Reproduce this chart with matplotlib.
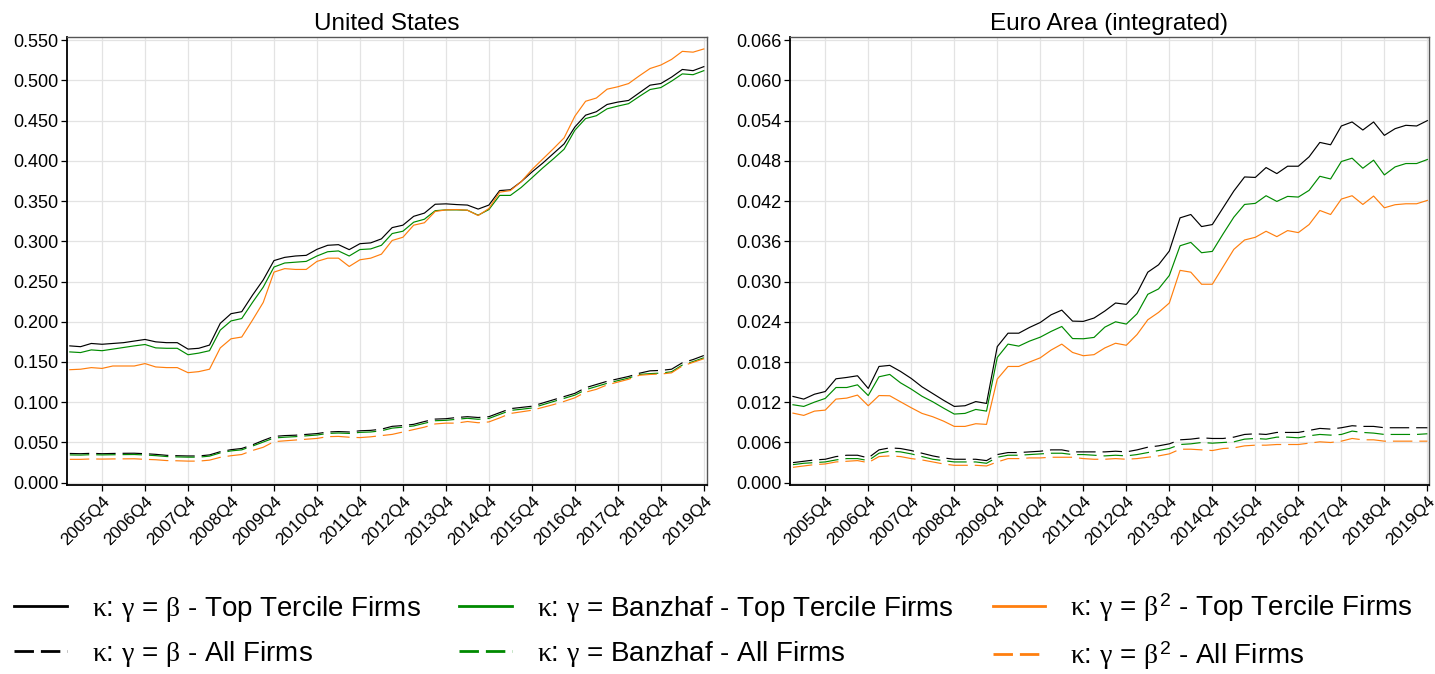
import numpy as np
import matplotlib
matplotlib.use("Agg")
import matplotlib.pyplot as plt

plt.rcParams['font.family'] = ['Liberation Sans', 'DejaVu Sans']
plt.rcParams['mathtext.fontset'] = 'custom'
plt.rcParams['mathtext.rm'] = 'Liberation Sans'
plt.rcParams['mathtext.it'] = 'Liberation Serif'
plt.rcParams['lines.scale_dashes'] = False

# quarters 2005Q1 .. 2019Q4
quarters = [f"{y}Q{q}" for y in range(2005, 2020) for q in range(1, 5)]

# ---- United States ----
us_beta_top = [0.170, 0.169, 0.173, 0.172, 0.173, 0.174, 0.176, 0.178, 0.175, 0.174,
               0.174, 0.166, 0.167, 0.171, 0.198, 0.210, 0.2125, 0.233, 0.252, 0.276,
               0.280, 0.2817, 0.2825, 0.290, 0.295, 0.2958, 0.2896, 0.297, 0.298, 0.303,
               0.317, 0.320, 0.331, 0.335, 0.346, 0.3465, 0.3456, 0.345, 0.340, 0.345,
               0.363, 0.364, 0.374, 0.386, 0.397, 0.409, 0.421, 0.442, 0.4567, 0.461,
               0.470, 0.473, 0.475, 0.4845, 0.494, 0.496, 0.504, 0.5135, 0.512, 0.517]
us_banz_top = [0.1625, 0.1617, 0.165, 0.164, 0.166, 0.168, 0.170, 0.1717, 0.1675, 0.167,
               0.167, 0.159, 0.161, 0.164, 0.1896, 0.201, 0.204, 0.224, 0.243, 0.268,
               0.273, 0.274, 0.275, 0.2817, 0.287, 0.288, 0.2817, 0.2897, 0.2905, 0.295,
               0.3096, 0.3125, 0.3237, 0.3274, 0.338, 0.339, 0.339, 0.3386, 0.3324, 0.3394,
               0.357, 0.357, 0.3668, 0.3788, 0.391, 0.4024, 0.4144, 0.438, 0.4525, 0.456,
               0.4646, 0.468, 0.471, 0.480, 0.4886, 0.491, 0.499, 0.508, 0.507, 0.512]
us_beta2_top = [0.1404, 0.141, 0.143, 0.142, 0.145, 0.145, 0.145, 0.148, 0.1438, 0.143,
                0.143, 0.1367, 0.138, 0.141, 0.1675, 0.1788, 0.181, 0.202, 0.224, 0.2617,
                0.266, 0.265, 0.265, 0.275, 0.279, 0.279, 0.2687, 0.277, 0.279, 0.284,
                0.301, 0.305, 0.320, 0.323, 0.337, 0.339, 0.3394, 0.3386, 0.332, 0.3407,
                0.361, 0.363, 0.374, 0.389, 0.402, 0.415, 0.4285, 0.4554, 0.474, 0.478,
                0.489, 0.492, 0.496, 0.5056, 0.5147, 0.519, 0.526, 0.536, 0.535, 0.539]
us_beta_all = [0.0363, 0.0360, 0.0365, 0.0360, 0.0363, 0.0365, 0.0366, 0.0360, 0.0352, 0.0340,
               0.0335, 0.0332, 0.0332, 0.0345, 0.0385, 0.0410, 0.0425, 0.0470, 0.0525, 0.0575,
               0.0585, 0.0590, 0.0600, 0.0610, 0.0630, 0.0635, 0.0630, 0.0645, 0.0650, 0.0665,
               0.0700, 0.0710, 0.0725, 0.0760, 0.0790, 0.0795, 0.0810, 0.0820, 0.0810, 0.0820,
               0.0870, 0.0920, 0.0935, 0.0950, 0.0990, 0.1030, 0.1070, 0.1110, 0.1180, 0.1220,
               0.1260, 0.1290, 0.1320, 0.1360, 0.1390, 0.1395, 0.1410, 0.1490, 0.1530, 0.1580]
us_banz_all = [0.0345, 0.0343, 0.0348, 0.0345, 0.0347, 0.0349, 0.0350, 0.0344, 0.0336, 0.0325,
               0.0320, 0.0317, 0.0317, 0.0330, 0.0370, 0.0395, 0.0408, 0.0455, 0.0505, 0.0555,
               0.0565, 0.0572, 0.0582, 0.0592, 0.0612, 0.0617, 0.0612, 0.0625, 0.0630, 0.0645,
               0.0678, 0.0690, 0.0705, 0.0738, 0.0770, 0.0775, 0.0788, 0.0800, 0.0788, 0.0798,
               0.0848, 0.0898, 0.0912, 0.0928, 0.0968, 0.1008, 0.1048, 0.1088, 0.1155, 0.1195,
               0.1235, 0.1268, 0.1300, 0.1345, 0.1355, 0.1362, 0.1378, 0.1462, 0.1505, 0.1552]
us_beta2_all = [0.0290, 0.0290, 0.0295, 0.0293, 0.0295, 0.0296, 0.0297, 0.0290, 0.0285, 0.0275,
                0.0272, 0.0268, 0.0268, 0.0280, 0.0315, 0.0335, 0.0350, 0.0400, 0.0440, 0.0510,
                0.0520, 0.0530, 0.0540, 0.0550, 0.0572, 0.0575, 0.0565, 0.0560, 0.0570, 0.0585,
                0.0600, 0.0630, 0.0660, 0.0690, 0.0730, 0.0740, 0.0740, 0.0760, 0.0745, 0.0755,
                0.0805, 0.0860, 0.0880, 0.0900, 0.0935, 0.0970, 0.1010, 0.1055, 0.1125, 0.1160,
                0.1215, 0.1250, 0.1285, 0.1335, 0.1345, 0.1350, 0.1365, 0.1450, 0.1495, 0.1540]

# ---- Euro Area (integrated) ----
ea_beta_top = [0.01287, 0.01247, 0.0132, 0.0136, 0.0155, 0.0157, 0.01595, 0.01406, 0.01734, 0.0175,
               0.0166, 0.01555, 0.0143, 0.0133, 0.0123, 0.01138, 0.01148, 0.0121, 0.01183, 0.0203,
               0.0223, 0.0223, 0.02316, 0.0239, 0.02504, 0.02574, 0.0241, 0.02406, 0.02456, 0.0256,
               0.0268, 0.0266, 0.0283, 0.0314, 0.0325, 0.03455, 0.0395, 0.0400, 0.0382, 0.0385,
               0.0410, 0.0435, 0.0456, 0.04553, 0.0470, 0.0461, 0.0472, 0.0472, 0.0486, 0.05075,
               0.0504, 0.0532, 0.0538, 0.0526, 0.0538, 0.0518, 0.0528, 0.0533, 0.0532, 0.0540]
ea_banz_top = [0.01163, 0.01138, 0.01202, 0.01257, 0.0142, 0.0142, 0.0146, 0.0130, 0.0158, 0.01615,
               0.0149, 0.01396, 0.0129, 0.01207, 0.01113, 0.01024, 0.01034, 0.01093, 0.01068, 0.01868,
               0.02067, 0.02037, 0.02112, 0.02171, 0.02256, 0.0233, 0.0215, 0.02147, 0.02167, 0.0232,
               0.0240, 0.02366, 0.0252, 0.0281, 0.0289, 0.0309, 0.03534, 0.03584, 0.0343, 0.0345,
               0.0371, 0.0396, 0.0415, 0.04166, 0.0428, 0.04195, 0.0427, 0.0426, 0.0436, 0.0457,
               0.0453, 0.0479, 0.0484, 0.0469, 0.0481, 0.0459, 0.0471, 0.0476, 0.0476, 0.0482]
ea_beta2_top = [0.01038, 0.01004, 0.01068, 0.01083, 0.01247, 0.01262, 0.01307, 0.01148, 0.0130, 0.01297,
                0.01207, 0.01118, 0.01034, 0.00984, 0.00919, 0.0084, 0.0084, 0.0088, 0.0087, 0.01545,
                0.01734, 0.01734, 0.0180, 0.01863, 0.01978, 0.02067, 0.01943, 0.01894, 0.0191, 0.0201,
                0.0208, 0.0205, 0.0221, 0.0243, 0.0254, 0.0268, 0.03167, 0.0314, 0.0296, 0.0296,
                0.0322, 0.0348, 0.0362, 0.0366, 0.0375, 0.0367, 0.0376, 0.0373, 0.0385, 0.0406,
                0.0400, 0.0423, 0.0428, 0.0415, 0.04275, 0.0410, 0.04146, 0.0416, 0.0416, 0.0421]
ea_beta_all = [0.0030, 0.0032, 0.0034, 0.0035, 0.0039, 0.0041, 0.0041, 0.0037, 0.0049, 0.0052,
               0.0051, 0.0048, 0.0044, 0.0040, 0.0037, 0.0035, 0.0035, 0.0035, 0.0033, 0.0042,
               0.0045, 0.0045, 0.0046, 0.0047, 0.0049, 0.0049, 0.0046, 0.0046, 0.0046, 0.0046,
               0.0047, 0.0046, 0.0049, 0.0053, 0.0055, 0.0058, 0.0064, 0.0065, 0.0067, 0.0066,
               0.0066, 0.0068, 0.0072, 0.0073, 0.0072, 0.0075, 0.0075, 0.0075, 0.0078, 0.0081,
               0.0080, 0.0082, 0.0085, 0.0084, 0.0084, 0.0082, 0.0082, 0.0082, 0.0082, 0.0082]
ea_banz_all = [0.0027, 0.0029, 0.0030, 0.0031, 0.0034, 0.0036, 0.0036, 0.0033, 0.0044, 0.0047,
               0.0046, 0.0043, 0.0039, 0.0035, 0.0033, 0.0031, 0.0031, 0.0031, 0.0029, 0.0038,
               0.0041, 0.0041, 0.0042, 0.0043, 0.0044, 0.0044, 0.0042, 0.0042, 0.0041, 0.0040,
               0.0041, 0.0040, 0.0042, 0.0045, 0.0048, 0.0051, 0.0057, 0.0058, 0.0060, 0.0059,
               0.0060, 0.0061, 0.0065, 0.0066, 0.0065, 0.0068, 0.0068, 0.0067, 0.0070, 0.0072,
               0.0071, 0.0072, 0.0077, 0.0075, 0.0074, 0.0072, 0.0072, 0.0072, 0.0072, 0.0073]
ea_beta2_all = [0.0023, 0.0025, 0.0027, 0.0028, 0.0031, 0.0032, 0.0033, 0.0030, 0.0039, 0.0040,
                0.0039, 0.0036, 0.0034, 0.0031, 0.0028, 0.0026, 0.0026, 0.0026, 0.0025, 0.0031,
                0.0036, 0.0036, 0.0037, 0.0037, 0.0038, 0.0038, 0.0038, 0.0036, 0.0035, 0.0035,
                0.0036, 0.0035, 0.0036, 0.0038, 0.0040, 0.0043, 0.0050, 0.0050, 0.0049, 0.0048,
                0.0051, 0.0052, 0.0055, 0.0056, 0.0056, 0.0057, 0.0057, 0.0057, 0.0059, 0.0061,
                0.0060, 0.0062, 0.0066, 0.0064, 0.0064, 0.0062, 0.0062, 0.0062, 0.0062, 0.0062]

labels = [r'$\kappa$: $\gamma$ = $\beta$ - Top Tercile Firms',
          r'$\kappa$: $\gamma$ = $\beta$ - All Firms',
          r'$\kappa$: $\gamma$ = Banzhaf - Top Tercile Firms',
          r'$\kappa$: $\gamma$ = Banzhaf - All Firms',
          r'$\kappa$: $\gamma$ = $\beta^2$ - Top Tercile Firms',
          r'$\kappa$: $\gamma$ = $\beta^2$ - All Firms']
colors = ['black', 'black', '#008a00', '#008a00', '#ff7f0e', '#ff7f0e']
dashed = (0, (14, 5))

fig = plt.figure(figsize=(14.35, 6.74), dpi=100)
ax1 = fig.add_axes([0.0467, 0.2804, 0.446, 0.665])
ax2 = fig.add_axes([0.5505, 0.2804, 0.4453, 0.665])

x = np.arange(len(quarters))
tick_idx = [i for i, q in enumerate(quarters) if q.endswith('Q4')]

panels = [
    (ax1, 'United States',
     [us_beta_top, us_beta_all, us_banz_top, us_banz_all, us_beta2_top, us_beta2_all],
     np.arange(0, 0.551, 0.05), (-0.0029, 0.5541), (-0.26, 59.3)),
    (ax2, 'Euro Area (integrated)',
     [ea_beta_top, ea_beta_all, ea_banz_top, ea_banz_all, ea_beta2_top, ea_beta2_all],
     np.arange(0, 0.0661, 0.006), (-0.00034, 0.0665), (-0.28, 59.15)),
]

for ax, title, series, yt, ylim, xlim in panels:
    handles = []
    for k, s in enumerate(series):
        ls = '-' if k % 2 == 0 else dashed
        h, = ax.plot(x, s, color=colors[k], lw=0.85, linestyle=ls)
        handles.append(h)
    ax.set_title(title, fontsize=17.5, pad=5)
    ax.set_xlim(*xlim)
    ax.set_ylim(*ylim)
    ax.set_yticks(yt)
    ax.set_yticklabels(['{:.3f}'.format(v) for v in yt], fontsize=13)
    ax.set_xticks(tick_idx)
    ax.set_xticklabels([quarters[i] for i in tick_idx], rotation=45, ha='right',
                       rotation_mode='anchor', fontsize=12.5)
    ax.grid(True, color='#e3e3e3', lw=0.9)
    ax.set_axisbelow(True)
    ax.tick_params(direction='out', length=4, width=0.9, color='black', pad=2)
    for side in ['left', 'bottom']:
        ax.spines[side].set_color('black')
        ax.spines[side].set_linewidth(1.3)
    for side in ['top', 'right']:
        ax.spines[side].set_color('#555555')
        ax.spines[side].set_linewidth(1.0)

leg = fig.legend(handles, labels, loc='center', bbox_to_anchor=(0.497, 0.063), ncol=3,
                 frameon=False, fontsize=20, handlelength=1.9, columnspacing=1.4,
                 handletextpad=0.9, labelspacing=0.55)
for line in leg.get_lines():
    line.set_linewidth(2.0)

fig.savefig('out.png', dpi=100)
